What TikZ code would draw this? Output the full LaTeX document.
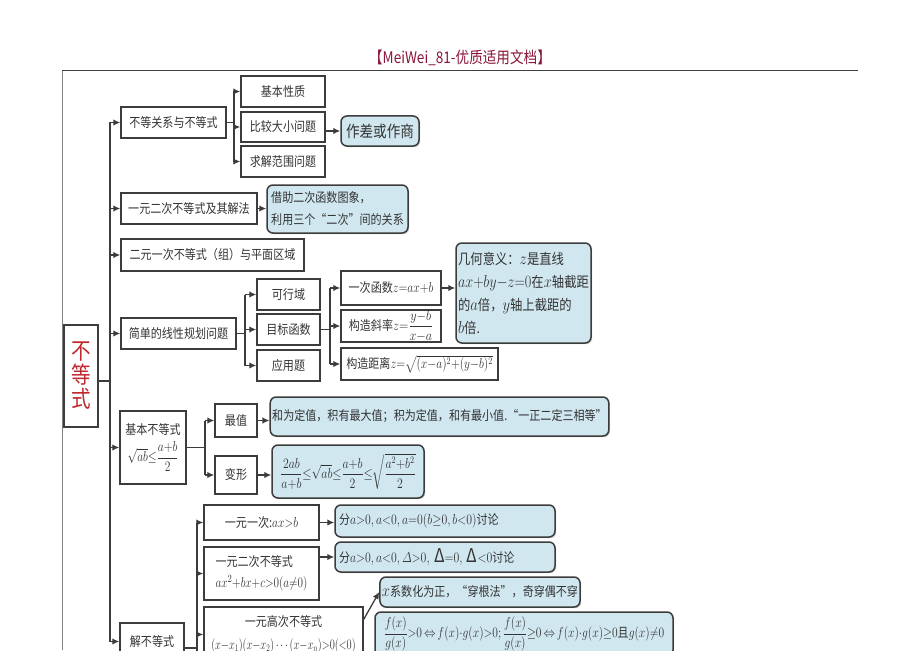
\documentclass[tikz,border=0pt]{standalone}
\usepackage{amsmath}
\usepackage{graphicx}
\usepackage{fontspec}
\setmainfont[FakeStretch=0.85]{Noto Sans CJK SC}
\newfontfamily\hdrfont[FakeStretch=0.85]{Noto Sans CJK SC}
\usetikzlibrary{arrows.meta,shadows}
\definecolor{bd}{HTML}{3C3C3C}
\definecolor{bluef}{HTML}{D0E7F0}
\definecolor{tx}{HTML}{333333}
\definecolor{hdr}{HTML}{8A1538}
\definecolor{redt}{HTML}{C0282E}
\newcommand\fsz[2]{\fontsize{#1}{#2}\selectfont}
% math at size #1, horizontally scaled by #2
\newcommand\mth[3]{{\fontsize{#1}{#1}\selectfont\scalebox{#2}[1]{$#3$}}}
\tikzset{
 box/.style={draw=bd, line width=1.5pt, fill=white, text=tx, inner sep=2pt, align=center,
   font=\fsz{13}{16}, drop shadow={shadow xshift=1.2pt, shadow yshift=-1.2pt, fill=black!40, opacity=0.5}},
 bbox/.style={box, fill=bluef, rounded corners=6pt},
 arr/.style={-{Latex[length=7pt,width=6.5pt]}, line width=1.3pt, draw=bd},
 ln/.style={line width=1.3pt, draw=bd},
}
\begin{document}
\begin{tikzpicture}[x=1pt,y=-1pt]
\useasboundingbox (0,0) rectangle (920,650);
\clip (0,0) rectangle (920,650);
\fill[white] (0,0) rectangle (920,650);
% page decorations
\node[text=hdr, font=\hdrfont\fsz{16}{18}] (hdr) at (460,58) {【MeiWei\_81-优质适用文档】};
\draw[line width=1pt, draw=black!75] (62,71) -- (858,71);
\draw[line width=0.9pt, draw=black!50] (62,71) -- (62,650);

% main
\node[box, minimum width=34pt, minimum height=102pt, font=\fsz{23}{24}, text=redt] (main) at (81,376) {不\\等\\式};

% level 1
\node[box, minimum width=105pt, minimum height=31pt] (A) at (173.5,122.5) {不等关系与不等式};
\node[box, minimum width=136pt, minimum height=31pt] (B) at (189,208.5) {一元二次不等式及其解法};
\node[box, minimum width=183pt, minimum height=32pt] (C) at (212.5,255) {二元一次不等式（组）与平面区域};
\node[box, minimum width=115pt, minimum height=31pt] (D) at (178.5,333.5) {简单的线性规划问题};
\node[box, minimum width=66pt, minimum height=73pt, inner sep=0pt] (F) at (153,447.5) {基本不等式\\[5pt]\mth{15}{0.8}{\sqrt{ab}{\le}\dfrac{a{+}b}{2}}};
\node[box, minimum width=64pt, minimum height=37pt] (G) at (152,641.5) {解不等式};

% A children
\node[box, minimum width=84pt, minimum height=31pt] (A1) at (283,91.5) {基本性质};
\node[box, minimum width=84pt, minimum height=30pt] (A2) at (283,127) {比较大小问题};
\node[box, minimum width=84pt, minimum height=31pt] (A3) at (283,161.5) {求解范围问题};
\node[bbox, minimum width=78pt, minimum height=30pt, font=\fsz{16}{18}] (A2b) at (380,131) {作差或作商};

% B child
\node[bbox, minimum width=141pt, minimum height=48pt, align=left, font=\fsz{13}{22}] (Bb) at (337.5,209) {借助二次函数图象，\\利用三个“二次”间的关系};

% D children
\node[box, minimum width=63pt, minimum height=31pt] (D1) at (288.5,294.5) {可行域};
\node[box, minimum width=63pt, minimum height=31pt] (D2) at (288.5,329.5) {目标函数};
\node[box, minimum width=63pt, minimum height=31pt] (D3) at (288.5,365.5) {应用题};
\node[box, minimum width=100pt, minimum height=34pt] (E1) at (391,288) {一次函数\mth{15.5}{0.8}{z{=}ax{+}b}};
\node[box, minimum width=100pt, minimum height=32pt, inner sep=0pt] (E2) at (391,326) {构造斜率\mth{14}{0.85}{z{=}\dfrac{y{-}b}{x{-}a}}};
\node[box, minimum width=157pt, minimum height=32pt, inner sep=0pt] (E3) at (419.5,364) {构造距离\mth{14}{0.8}{z{=}\sqrt{(x{-}a)^2{+}(y{-}b)^2}}};
\node[bbox, minimum width=135pt, minimum height=100pt, align=left, font=\fsz{14.5}{23}] (Eb) at (523.5,293) {几何意义：\mth{16}{0.85}{z}是直线\\\mth{16}{0.82}{ax{+}by{-}z{=}0}在\mth{16}{0.85}{x}轴截距\\的\mth{16}{0.85}{a}倍，\mth{16}{0.85}{y}轴上截距的\\\mth{16}{0.85}{b}倍.};

% F children
\node[box, minimum width=42pt, minimum height=33pt] (F1) at (236,420.5) {最值};
\node[box, minimum width=42pt, minimum height=38pt] (F2) at (236,475) {变形};
\node[bbox, minimum width=335pt, minimum height=39pt] (F1b) at (439.5,416.5) {和为定值，积有最大值；积为定值，和有最小值.“一正二定三相等”};
\node[bbox, minimum width=152pt, minimum height=53pt, inner sep=0pt] (F2b) at (348,471.5) {\mth{14.5}{0.82}{\dfrac{2ab}{a{+}b}{\le}\sqrt{ab}{\le}\dfrac{a{+}b}{2}{\le}\sqrt{\dfrac{a^2{+}b^2}{2}}}};

% G children
\node[box, minimum width=115pt, minimum height=35pt] (G1) at (261.5,522.5) {一元一次:\mth{15.5}{0.8}{ax{>}b}};
\node[box, minimum width=115pt, minimum height=53pt, align=left, font=\fsz{13}{21}] (G2) at (261.5,573.5) {一元二次不等式\\\mth{15}{0.78}{ax^2{+}bx{+}c{>}0(a{\ne}0)}};
\node[box, minimum width=159pt, minimum height=55pt, font=\fsz{13}{23}] (G3) at (283.5,634.5) {一元高次不等式\\\mth{14.5}{0.72}{(x{-}x_1)(x{-}x_2)\cdots(x{-}x_n){>}0({<}0)}};
\node[bbox, minimum width=220pt, minimum height=32pt, align=left, text width=212pt] (G1b) at (445,521) {分\mth{15}{0.82}{a{>}0,a{<}0,a{=}0(b{\ge}0,b{<}0)}讨论};
\node[bbox, minimum width=220pt, minimum height=30pt, align=left, text width=212pt] (G2b) at (445,557) {分\mth{15}{0.82}{a{>}0,a{<}0,\varDelta{>}0,} {\fsz{19}{18}Δ}\mth{15}{0.82}{{=}0,} {\fsz{19}{18}Δ}\mth{15}{0.82}{{<}0}讨论};
\node[bbox, minimum width=194pt, minimum height=30pt] (G3a) at (480,592) {\mth{16}{0.85}{x}系数化为正，“穿根法”，奇穿偶不穿};
\node[bbox, minimum width=298pt, minimum height=44pt, inner sep=0pt] (G3b) at (524,634) {\mth{14.5}{0.8}{\dfrac{f(x)}{g(x)}{>}0\,{\Leftrightarrow}\,f(x){\cdot}g(x){>}0;\dfrac{f(x)}{g(x)}{\ge}0\,{\Leftrightarrow}\,f(x){\cdot}g(x){\ge}0}且\mth{14.5}{0.8}{g(x){\ne}0}};

% connectors
\coordinate (T) at (110,0);
\draw[ln] (main.east |- 0,381) -- (T |- 0,381);
\draw[ln] (A.west -| T) -- (G.west -| T);
\foreach \n in {A,B,C,D,F,G} \draw[arr] (\n.west -| T) -- (\n.west);

\coordinate (JA) at (234,0);
\draw[ln] (A.east) -- (A.east -| JA);
\draw[ln] (A1.west -| JA) -- (A3.west -| JA);
\foreach \n in {A1,A2,A3} \draw[arr] (\n.west -| JA) -- (\n.west);
\draw[arr] (A2.east |- A2b.west) -- (A2b.west);

\draw[arr] (B.east) -- (B.east -| Bb.west);

\coordinate (JD) at (245,0);
\draw[ln] (D.east) -- (D.east -| JD);
\draw[ln] (D1.west -| JD) -- (D3.west -| JD);
\foreach \n in {D1,D2,D3} \draw[arr] (\n.west -| JD) -- (\n.west);

\coordinate (JE) at (330,0);
\draw[ln] (D2.east) -- (D2.east -| JE);
\draw[ln] (E1.west -| JE) -- (E3.west -| JE);
\foreach \n in {E1,E2,E3} \draw[arr] (\n.west -| JE) -- (\n.west);
\draw[arr] (E1.east) -- (E1.east -| Eb.west);

\coordinate (JF) at (205,0);
\draw[ln] (F.east) -- (F.east -| JF);
\draw[ln] (F1.west -| JF) -- (F2.west -| JF);
\foreach \n in {F1,F2} \draw[arr] (\n.west -| JF) -- (\n.west);
\draw[arr] (F1.east) -- (F1.east -| F1b.west);
\draw[arr] (F2.east) -- (F2.east -| F2b.west);

\coordinate (JG) at (197,0);
\draw[ln] (G.east |- 0,648) -- (JG |- 0,648);
\draw[ln] (G1.west -| JG) -- (JG |- 0,652);
\foreach \n in {G1,G2,G3} \draw[arr] (\n.west -| JG) -- (\n.west);
\draw[arr] (G1.east) -- (G1.east -| G1b.west);
\draw[arr] (G2.east |- G2b.west) -- (G2b.west);
\draw[arr] ([yshift=-13pt]G3.north east) -- (G3a.west);
\end{tikzpicture}
\end{document}
